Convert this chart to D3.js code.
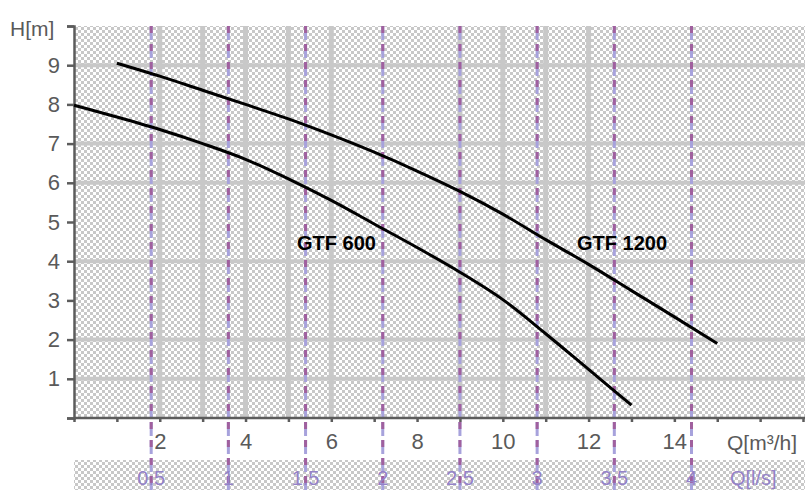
<!DOCTYPE html>
<html>
<head>
<meta charset="utf-8">
<script src="https://cdn.jsdelivr.net/npm/d3@7"></script>
<style>
  body { margin: 0; background: #fff; }
  svg { display: block; }
  text { font-family: "Liberation Sans", Arial, sans-serif; }
</style>
</head>
<body>
<div id="chart"></div>
<script>
// curve data, Q in m3/h, H in m
var q600 = [0, 1, 2, 3, 4, 5, 6, 7, 8, 9, 10, 11, 12, 13];
var h600 = [7.98, 7.68, 7.36, 7.0, 6.6, 6.1, 5.55, 4.95, 4.35, 3.72, 3.02, 2.15, 1.24, 0.33];
var q1200 = [1, 2, 3, 4, 5, 6, 7, 8, 9, 10, 11, 12, 13, 14, 15];
var h1200 = [9.05, 8.72, 8.36, 8.0, 7.63, 7.22, 6.78, 6.3, 5.78, 5.2, 4.55, 3.92, 3.25, 2.58, 1.9];

// tick labels
var hTicks = [1, 2, 3, 4, 5, 6, 7, 8, 9];
var qTicks = [2, 4, 6, 8, 10, 12, 14];
var lsTicks = [0.5, 1, 1.5, 2, 2.5, 3, 3.5, 4];
var lsLabels = ['0.5', '1', '1.5', '2', '2.5', '3', '3.5', '4'];

// grid lines that show in the picture
var hGrid = [1, 2, 4, 6, 7, 9];
var vGrid = [2, 3, 4, 5, 6, 9, 10, 11, 12];

var width = 805, height = 490;
var margin = { top: 26, left: 74, bottom: 418, right: 803 };

var svg = d3.select('#chart')
  .append('svg')
  .attr('width', width)
  .attr('height', height);

var x = d3.scaleLinear().domain([0, 17]).range([margin.left, margin.right]);
var y = d3.scaleLinear().domain([0, 10]).range([margin.bottom, margin.top]);

// checker background
var pat = svg.append('defs').append('pattern')
  .attr('id', 'checker')
  .attr('patternUnits', 'userSpaceOnUse')
  .attr('width', 6).attr('height', 6);
pat.append('rect').attr('width', 6).attr('height', 6).attr('fill', '#fff');
pat.append('rect').attr('width', 3).attr('height', 3).attr('fill', '#c8c8c8');
pat.append('rect').attr('x', 3).attr('y', 3).attr('width', 3).attr('height', 3).attr('fill', '#c8c8c8');

svg.append('rect')
  .attr('x', margin.left).attr('y', margin.top)
  .attr('width', width - margin.left).attr('height', margin.bottom - margin.top)
  .attr('fill', 'url(#checker)');

svg.append('rect')
  .attr('x', margin.left).attr('y', 460)
  .attr('width', width - margin.left).attr('height', height - 460)
  .attr('fill', 'url(#checker)');

// grid
svg.append('g').selectAll('line')
  .data(hGrid).enter().append('line')
  .attr('x1', margin.left).attr('x2', width)
  .attr('y1', d => y(d)).attr('y2', d => y(d))
  .attr('stroke', '#c8c8c8').attr('stroke-width', 4);

svg.append('g').selectAll('line')
  .data(vGrid).enter().append('line')
  .attr('x1', d => x(d)).attr('x2', d => x(d))
  .attr('y1', margin.top).attr('y2', margin.bottom)
  .attr('stroke', '#c8c8c8').attr('stroke-width', 5);

// l/s lines (1 l/s = 3.6 m3/h)
var lsG = svg.append('g');
lsG.selectAll('line.base')
  .data(lsTicks).enter().append('line')
  .attr('class', 'base')
  .attr('x1', d => x(d * 3.6)).attr('x2', d => x(d * 3.6))
  .attr('y1', margin.top).attr('y2', height)
  .attr('stroke', '#a7a2dc').attr('stroke-width', 3)
  .attr('stroke-dasharray', '14,4');
lsG.selectAll('line.dash')
  .data(lsTicks).enter().append('line')
  .attr('class', 'dash')
  .attr('x1', d => x(d * 3.6)).attr('x2', d => x(d * 3.6))
  .attr('y1', margin.top).attr('y2', height)
  .attr('stroke', '#a0609e').attr('stroke-width', 3)
  .attr('stroke-dasharray', '7,11');

// axes
var yAxis = svg.append('g')
  .attr('transform', `translate(${margin.left},0)`)
  .call(d3.axisLeft(y).tickValues(d3.range(0, 11)).tickSize(7).tickPadding(7)
    .tickFormat(d => hTicks.indexOf(d) >= 0 ? d : ''));

var xAxis = svg.append('g')
  .attr('transform', `translate(0,${margin.bottom})`)
  .call(d3.axisBottom(x).tickValues(d3.range(0, 18)).tickSize(4).tickPadding(11)
    .tickFormat(d => qTicks.indexOf(d) >= 0 ? d : ''));

[yAxis, xAxis].forEach(function(a) {
  a.select('.domain').attr('stroke', '#5c5c5c').attr('stroke-width', 2.5);
  a.selectAll('.tick line').attr('stroke', '#5c5c5c').attr('stroke-width', 2.5);
  a.selectAll('.tick text').attr('fill', '#5a5a5a').style('font-size', '22px')
    .style('font-family', '"Liberation Sans", Arial, sans-serif');
});
xAxis.select('.domain').attr('d', `M${margin.left},0H${width}`);

svg.append('text')
  .attr('x', 10).attr('y', 36)
  .attr('fill', '#5a5a5a').style('font-size', '21px')
  .text('H[m]');

svg.append('text')
  .attr('x', 727).attr('y', 450)
  .attr('fill', '#5a5a5a').style('font-size', '21px')
  .text('Q[m³/h]');

// l/s labels
svg.append('g').selectAll('text')
  .data(lsTicks).enter().append('text')
  .attr('x', d => x(d * 3.6)).attr('y', 485)
  .attr('text-anchor', 'middle')
  .attr('fill', '#9482c8').style('font-size', '20px')
  .text((d, i) => lsLabels[i]);

svg.append('text')
  .attr('x', 730).attr('y', 485)
  .attr('fill', '#9482c8').style('font-size', '20px')
  .text('Q[l/s]');

// curves
var line = d3.line()
  .x(d => x(d[0])).y(d => y(d[1]))
  .curve(d3.curveMonotoneX);

svg.append('path')
  .datum(q600.map((q, i) => [q, h600[i]]))
  .attr('d', line)
  .attr('fill', 'none').attr('stroke', '#000').attr('stroke-width', 3);

svg.append('path')
  .datum(q1200.map((q, i) => [q, h1200[i]]))
  .attr('d', line)
  .attr('fill', 'none').attr('stroke', '#000').attr('stroke-width', 3);

svg.append('text')
  .attr('x', 297).attr('y', 250)
  .attr('fill', '#000').style('font-size', '20px').style('font-weight', 'bold')
  .text('GTF 600');

svg.append('text')
  .attr('x', 577).attr('y', 250)
  .attr('fill', '#000').style('font-size', '20px').style('font-weight', 'bold')
  .text('GTF 1200');
</script>
</body>
</html>
